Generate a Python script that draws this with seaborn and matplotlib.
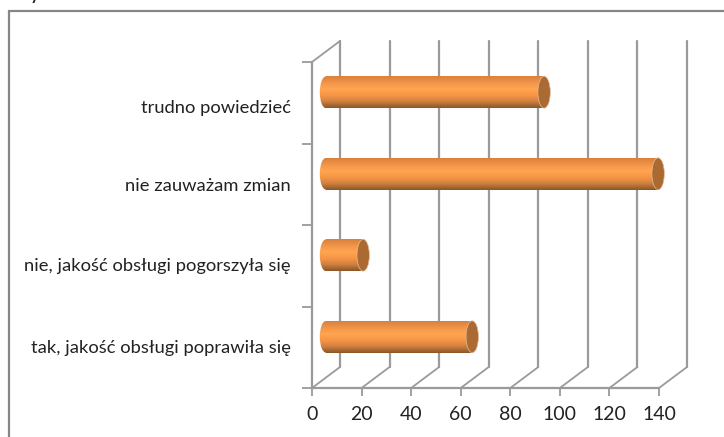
import numpy as np
import pandas as pd
import seaborn as sns
import matplotlib.pyplot as plt
from matplotlib.colors import LinearSegmentedColormap
from matplotlib.patches import Ellipse, Rectangle
from matplotlib.transforms import Affine2D

categories = ["trudno powiedzieć", "nie zauważam zmian",
              "nie, jakość obsługi pogorszyła się", "tak, jakość obsługi poprawiła się"]
values = [88, 134, 15, 59]
x_ticks = [0, 20, 40, 60, 80, 100, 120, 140]

sns.set_style("white")
plt.rcParams['font.family'] = ['Lato', 'DejaVu Sans']

W, H = 724, 437
fig = plt.figure(figsize=(W / 100, H / 100), dpi=100)

# frame round the whole chart, right and bottom fall outside the crop
fig.add_artist(Rectangle((9 / W, 1 - 445 / H), 730 / W, 434 / H, transform=fig.transFigure,
                         fill=False, edgecolor='#868686', lw=1.6))
# title of the page above, only its tail is visible
fig.text(14 / W, 1 - 0 / H, "Wykres", fontsize=12, fontweight='bold', color='#222222', va='baseline')

# front plane of the 3d box
ax = fig.add_axes([312 / W, 1 - 388 / H, 347 / W, 326 / H])
df = pd.DataFrame({"kat": categories, "val": values})
sns.barplot(data=df, y="kat", x="val", orient="h", ax=ax, width=0.39, color="#F79646", zorder=3)
ax.set_xlim(0, 140)
ax.set_ylim(3.5, -0.5)

back = ax.transData + Affine2D().translate(28, 21)
mid = ax.transData + Affine2D().translate(14, 10.5)
grid_c = '#9a9a9a'

# back wall and the floor lines
for t in x_ticks:
    ax.plot([t, t], [3.5, -0.5], color=grid_c, lw=1.6, transform=back, clip_on=False, zorder=1)
    x0 = ax.transData.transform((t, 3.5))
    x1 = back.transform((t, 3.5))
    ax.plot([x0[0], x1[0]], [x0[1], x1[1]], color=grid_c, lw=1.3, transform=None, clip_on=False, zorder=1)
a = ax.transData.transform((0, -0.5))
b = back.transform((0, -0.5))
ax.plot([a[0], b[0]], [a[1], b[1]], color=grid_c, lw=1.3, transform=None, clip_on=False, zorder=1)

# bars become cylinders
shade = LinearSegmentedColormap.from_list("cyl", ['#D9813C', '#F2944A', '#FFA54F', '#F79646', '#D08040', '#8A5728'])
grad = np.linspace(0, 1, 64).reshape(-1, 1)
ew = 5.0
for bar in list(ax.patches):
    top = bar.get_y()
    bot = top + bar.get_height()
    val = bar.get_width()
    bar.set_visible(False)
    body = Rectangle((0, top), val, bot - top, transform=mid, fc='none', ec='none')
    left = Ellipse((0, (top + bot) / 2), ew, bot - top, transform=mid, fc='none', ec='none')
    for part, x0, x1 in [(body, 0, val), (left, -ew, ew)]:
        ax.add_patch(part)
        part.set_clip_on(False)
        im = ax.imshow(grad, cmap=shade, aspect='auto', extent=(x0, x1, bot, top), zorder=3, transform=mid)
        im.set_clip_path(part)
    ax.add_patch(Ellipse((val, (top + bot) / 2), ew, bot - top, transform=mid, fc='#AA6A32',
                         ec='#E3BC98', lw=0.5, zorder=4, clip_on=False))
ax.set_xlim(0, 140)
ax.set_ylim(3.5, -0.5)
ax.set_xlabel("")
ax.set_ylabel("")
ax.patch.set_visible(False)

# axes and ticks
sns.despine(ax=ax, top=True, right=True)
for s in ['left', 'bottom']:
    ax.spines[s].set_color(grid_c)
    ax.spines[s].set_linewidth(1.6)
ax.set_xticks(x_ticks)
ax.set_xticklabels([str(t) for t in x_ticks], fontsize=14, color='#222222')
ax.tick_params(axis='x', length=6, width=1.3, color=grid_c, pad=7, bottom=True)
ax.set_yticks([-0.5, 0.5, 1.5, 2.5, 3.5])
ax.set_yticklabels([])
ax.tick_params(axis='y', length=7, width=1.3, color=grid_c, left=True)
label_shift = [-5, -2, 0, -1]
for i, c in enumerate(categories):
    ax.annotate(c, xy=(0, i), xycoords=ax.get_yaxis_transform(), xytext=(-21, label_shift[i]), textcoords='offset pixels',
                ha='right', va='center', fontsize=13.2, color='#222222')

fig.savefig("out.png", dpi=100)
